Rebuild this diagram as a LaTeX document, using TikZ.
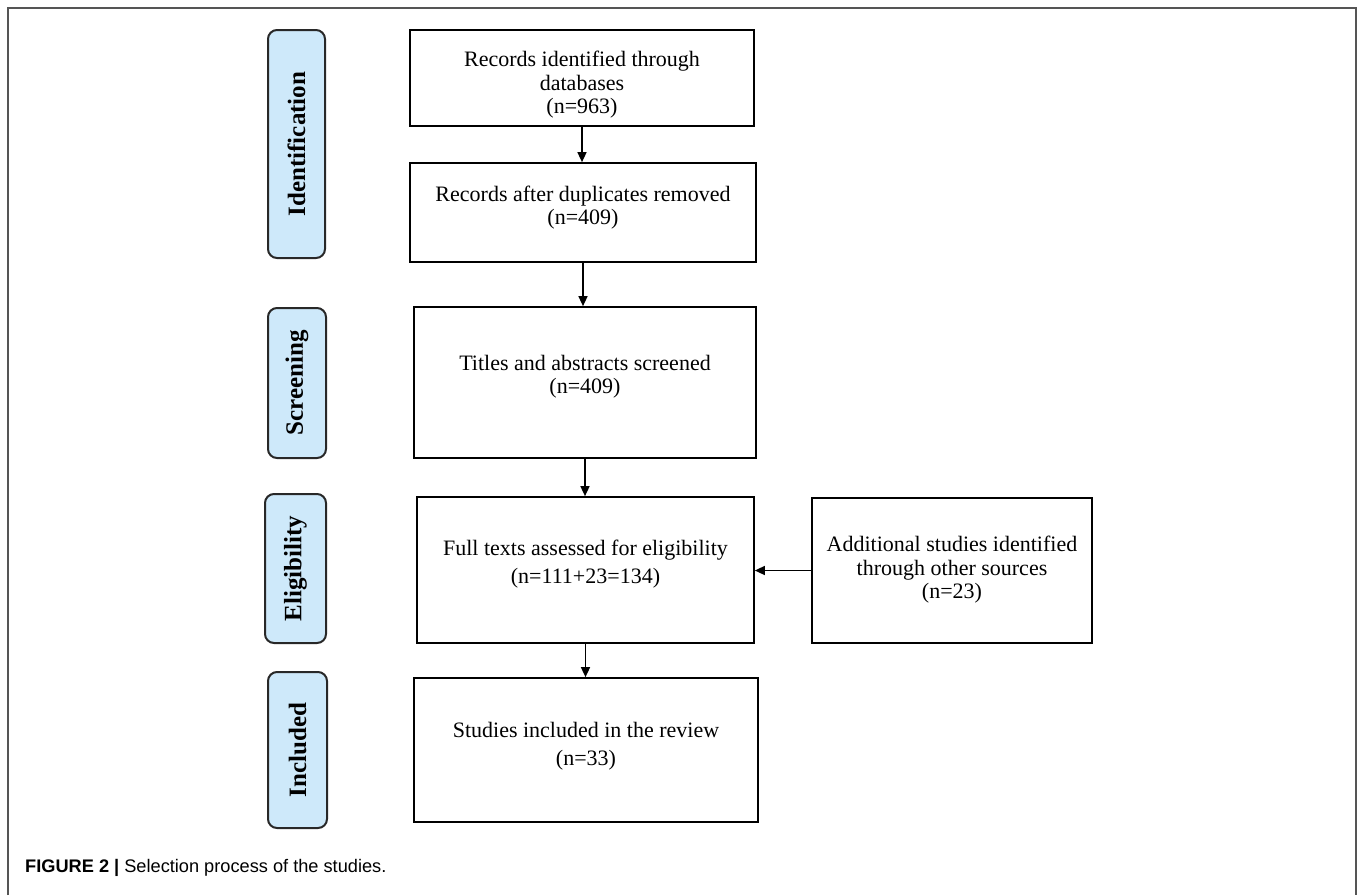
\documentclass[tikz,border=0pt]{standalone}
\usepackage{fontspec}
\setmainfont{Liberation Serif}
\newfontfamily\capfont{Liberation Sans}
\usetikzlibrary{arrows.meta}
\definecolor{phasefill}{RGB}{206,233,250}
\definecolor{phaseline}{RGB}{40,40,40}
\definecolor{framegray}{RGB}{85,85,85}
\tikzset{
  flowbox/.style={draw=black, line width=1.7pt, fill=white, inner sep=0pt},
  flowtext/.style={align=center, font=\fontsize{22}{23.5}\selectfont, inner sep=0pt},
  flowtextwide/.style={align=center, font=\fontsize{22}{28}\selectfont, inner sep=0pt},
  phasebox/.style={draw=phaseline, line width=2pt, fill=phasefill, rounded corners=9pt,
    rotate=90, inner sep=0pt, font=\fontsize{25}{28}\selectfont\bfseries},
  flowarrow/.style={draw=black, line width=1.5pt, -{Triangle[length=10pt,width=9pt]}},
  frameline/.style={draw=framegray, line width=1.6pt}
}
\begin{document}
\begin{tikzpicture}[x=1pt,y=-1pt]
\useasboundingbox (0,0) rectangle (1358,895);
% outer frame
\draw[frameline] (8,895) -- (8,8) -- (1356,8) -- (1356,895);

% phase labels
\node[phasebox, minimum width=228pt, minimum height=57pt] (pid) at (296.5,144) {Identification};
\node[phasebox, minimum width=150pt, minimum height=58pt] (psc) at (297,383) {Screening};
\node[phasebox, minimum width=149pt, minimum height=61pt] (pel) at (295.5,568.5) {Eligibility};
\node[phasebox, minimum width=156pt, minimum height=59pt] (pin) at (297.5,750) {Included};

% boxes
\node[flowbox, minimum width=344pt, minimum height=96pt] (b1) at (582,78) {};
\node[flowbox, minimum width=346pt, minimum height=99pt] (b2) at (583,212.5) {};
\node[flowbox, minimum width=342pt, minimum height=151pt] (b3) at (585,382.5) {};
\node[flowbox, minimum width=337pt, minimum height=146pt] (b4) at (585.5,570) {};
\node[flowbox, minimum width=280pt, minimum height=145pt] (b5) at (952,570.5) {};
\node[flowbox, minimum width=344pt, minimum height=144pt] (b6) at (586,750) {};

% texts
\node[flowtext] (t1) at (582,85) {Records identified through\\databases\\(n=963)};
\node[flowtext] (t2) at (583,207.5) {Records after duplicates removed\\(n=409)};
\node[flowtext] (t3) at (585,376.5) {Titles and abstracts screened\\(n=409)};
\node[flowtextwide] (t4) at (585.5,564) {Full texts assessed for eligibility\\(n=111+23=134)};
\node[flowtext] (t5) at (952,570) {Additional studies identified\\through other sources\\(n=23)};
\node[flowtextwide] (t6) at (586,746) {Studies included in the review\\(n=33)};

% connectors
\draw[flowarrow] (b1.south) -- (b1.south |- b2.north);
\draw[flowarrow] (b2.south) -- (b2.south |- b3.north);
\draw[flowarrow] (b3.south) -- (b3.south |- b4.north);
\draw[flowarrow] (b4.south) -- (b4.south |- b6.north);
\draw[flowarrow] (b5.west) -- (b4.east |- b5.west);

% caption
\node[anchor=base west, inner sep=0pt, font=\capfont\fontsize{18.2}{20}\selectfont] (cap) at (25,872)
  {\textbf{FIGURE 2 |} Selection process of the studies.};
\end{tikzpicture}
\end{document}
